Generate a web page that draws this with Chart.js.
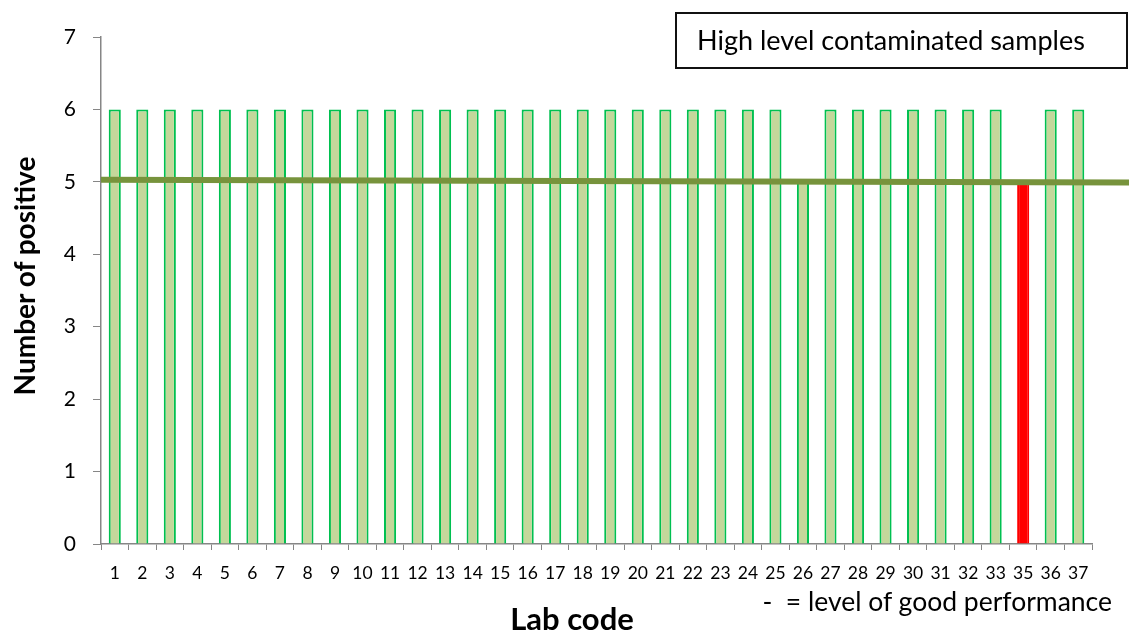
<!DOCTYPE html>
<html>
<head>
<meta charset="utf-8">
<script src="https://cdn.jsdelivr.net/npm/chart.js@4.4.0/dist/chart.umd.min.js"></script>
<style>
  body { margin: 0; background: #fff; }
  #wrap { position: relative; width: 1129px; height: 633px; font-family: Lato, sans-serif; color: #000; }
  #legendBox {
    position: absolute; left: 675px; top: 12px; width: 453px; height: 57px;
    box-sizing: border-box; border: 2px solid #111;
    font-size: 27px; line-height: 52px; padding-left: 20px;
  }
  #note {
    position: absolute; right: 17px; top: 588px;
    font-size: 26.5px; line-height: 26.5px; white-space: pre;
  }
  #xTitle {
    position: absolute; left: 472px; top: 603px; width: 200px; text-align: center;
    font-size: 31px; line-height: 31px; font-weight: bold;
  }
  #yTitle {
    position: absolute; left: -126px; top: 259px; width: 300px; height: 34px; text-align: center;
    font-size: 28px; line-height: 34px; font-weight: bold; transform: rotate(-90deg);
  }
</style>
</head>
<body>
<div id="wrap">
  <canvas id="myChart" width="1129" height="633"></canvas>
  <div id="legendBox">High level contaminated samples</div>
  <div id="note">-  = level of good performance</div>
  <div id="xTitle">Lab code</div>
  <div id="yTitle">Number of positive</div>
</div>
<script>
// lab codes on the x axis (34 is missing in the original)
const labCodes = ['1','2','3','4','5','6','7','8','9','10','11','12','13','14','15','16','17','18',
                  '19','20','21','22','23','24','25','26','27','28','29','30','31','32','33','35','36','37'];
// number of positive samples per lab
const positives = [6,6,6,6,6,6,6,6,6,6,6,6,6,6,6,6,6,6,
                   6,6,6,6,6,6,6,5,6,6,6,6,6,6,6,5,6,6];
// line for level of good performance (ends, on a 0..36 linear axis)
const goodLevelX = [0, 37.35];
const goodLevelY = [5.03, 4.99];
const yMin = 0, yMax = 7;

const failedLab = '35';
const fillColors = labCodes.map(c => c === failedLab ? '#ff0000' : '#c4d79b');
const edgeColors = labCodes.map(c => c === failedLab ? '#ff0000' : '#00c050');

const ctx = document.getElementById('myChart').getContext('2d');
new Chart(ctx, {
  data: {
    labels: labCodes,
    datasets: [
      {
        type: 'line',
        data: goodLevelX.map((x, i) => ({ x: x, y: goodLevelY[i] })),
        xAxisID: 'xl',
        borderColor: '#77933c',
        borderWidth: 6,
        pointRadius: 0,
        clip: false,
        order: 1
      },
      {
        type: 'bar',
        data: positives,
        xAxisID: 'x',
        backgroundColor: fillColors,
        borderColor: edgeColors,
        borderWidth: 2,
        grouped: false,
        barPercentage: 0.44,
        categoryPercentage: 1,
        order: 2
      }
    ]
  },
  options: {
    responsive: false,
    animation: false,
    layout: { padding: { left: 0, top: 37, right: 37, bottom: 0 } },
    plugins: { legend: { display: false }, tooltip: { enabled: false } },
    scales: {
      x: {
        type: 'category',
        grid: { drawOnChartArea: false, drawTicks: true, tickLength: 6, color: '#868686', offset: true },
        border: { color: '#868686', width: 1.5 },
        ticks: { color: '#000', font: { family: 'Lato', size: 17.5 }, padding: 13, maxRotation: 0, autoSkip: false },
        afterFit: s => { s.height = 89; }
      },
      xl: { type: 'linear', min: 0, max: 36, display: false },
      y: {
        min: yMin, max: yMax,
        ticks: { stepSize: 1, color: '#000', font: { family: 'Lato', size: 21 }, padding: 17 },
        grid: { drawOnChartArea: false, drawTicks: true, tickLength: 8, color: '#868686' },
        border: { color: '#868686', width: 1.5 },
        afterFit: s => { s.width = 101; }
      }
    }
  }
});
</script>
</body>
</html>
